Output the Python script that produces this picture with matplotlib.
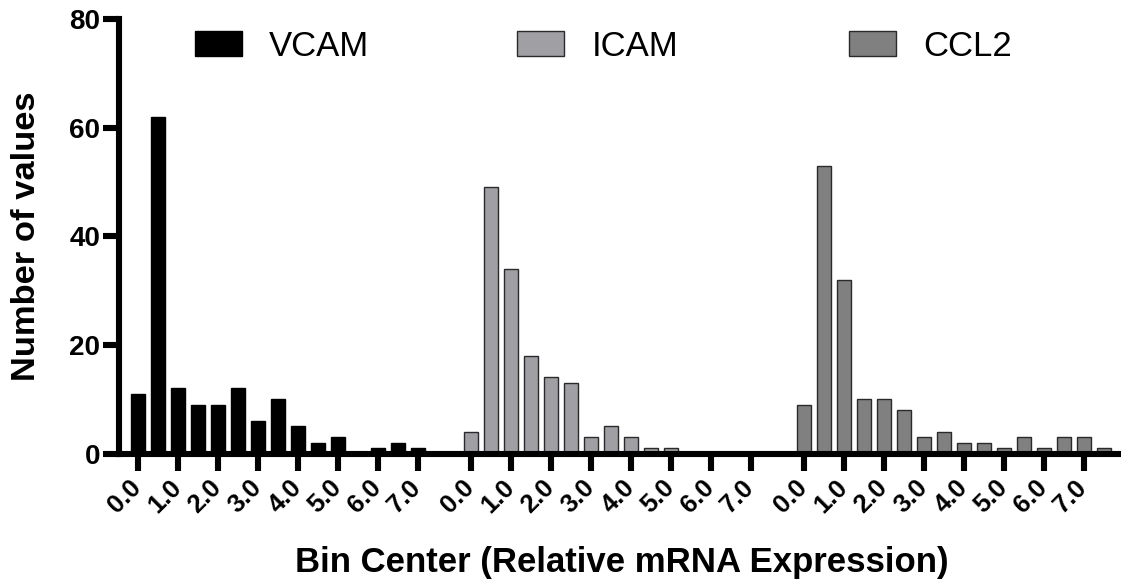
import matplotlib
matplotlib.use("Agg")
import matplotlib.pyplot as plt
import numpy as np

plt.rcParams['font.family'] = ['Liberation Sans', 'DejaVu Sans']

# ---- data ----
bin_centers = [0.0, 0.5, 1.0, 1.5, 2.0, 2.5, 3.0, 3.5, 4.0, 4.5, 5.0, 5.5, 6.0, 6.5, 7.0, 7.5]
vcam = [11, 62, 12, 9, 9, 12, 6, 10, 5, 2, 3, 0, 1, 2, 1, 0]
icam = [4, 49, 34, 18, 14, 13, 3, 5, 3, 1, 1, 0, 0, 0, 0, 0]
ccl2 = [9, 53, 32, 10, 10, 8, 3, 4, 2, 2, 1, 3, 1, 3, 3, 1]
series_names = ["VCAM", "ICAM", "CCL2"]
tick_values = [0.0, 1.0, 2.0, 3.0, 4.0, 5.0, 6.0, 7.0]
tick_labels = ["0.0", "1.0", "2.0", "3.0", "4.0", "5.0", "6.0", "7.0"]
y_ticks = [0, 20, 40, 60, 80]

# ---- style ----
group_offsets = [0.0, 8.33, 16.65]
fills = ["#000000", "#a09fa4", "#808080"]
edges = ["#000000", "#2a2a2a", "#2a2a2a"]
bar_width = 0.35

W, H = 1121, 586
fig = plt.figure(figsize=(W / 100, H / 100), dpi=100)
left_px, right_px, top_px, zero_px = 119, 1121, 19, 453.5
ax = fig.add_axes([left_px / W, 1 - zero_px / H, (right_px - left_px) / W, (zero_px - top_px) / H])

handles = []
for vals, off, fc, ec, name in zip([vcam, icam, ccl2], group_offsets, fills, edges, series_names):
    xs = np.array(bin_centers) + off
    b = ax.bar(xs, vals, width=bar_width, color=fc, edgecolor=ec, linewidth=1.0, label=name, zorder=2)
    handles.append(b)

xt, xl = [], []
for off in group_offsets:
    xt += [v + off for v in tick_values]
    xl += tick_labels
ax.set_xticks(xt)
ax.set_xticklabels(xl, rotation=45, ha='right', va='center', rotation_mode='anchor',
                   fontsize=18.5, fontweight='bold')
ax.set_yticks(y_ticks)
ax.set_yticklabels([str(v) for v in y_ticks], fontsize=20, fontweight='bold')

ax.set_xlim((left_px - 137.5) / 40.0, (right_px - 137.5) / 40.0)
ax.set_ylim(0, 80)

for s in ['top', 'right']:
    ax.spines[s].set_visible(False)
for s in ['left', 'bottom']:
    ax.spines[s].set_linewidth(4.4)
    ax.spines[s].set_capstyle('projecting')
    ax.spines[s].set_zorder(3)
ax.tick_params(axis='x', direction='out', length=12, width=4.4, pad=10)
ax.tick_params(axis='y', direction='out', length=11.5, width=4.4, pad=2)

ax.set_xlabel("Bin Center (Relative mRNA Expression)", fontsize=25, fontweight='bold')
ax.xaxis.label.set_va('baseline')
ax.xaxis.set_label_coords(0.502, (zero_px - 572) / (zero_px - top_px))
ax.set_ylabel("Number of values", fontsize=24.8, fontweight='bold')
ax.yaxis.label.set_va('baseline')
ax.yaxis.set_label_coords((35 - left_px) / (right_px - left_px), 0.5)

# legend entries placed individually
legend_x_px = [195, 517, 849]
for h, name, xp in zip(handles, series_names, legend_x_px):
    leg = fig.legend([h], [name], loc='center left', bbox_to_anchor=(xp / W, 1 - 46 / H),
                     frameon=False, fontsize=25, handlelength=1.36, handleheight=0.74,
                     handletextpad=0.78, borderpad=0, borderaxespad=0)

fig.savefig("out.png", dpi=100)
